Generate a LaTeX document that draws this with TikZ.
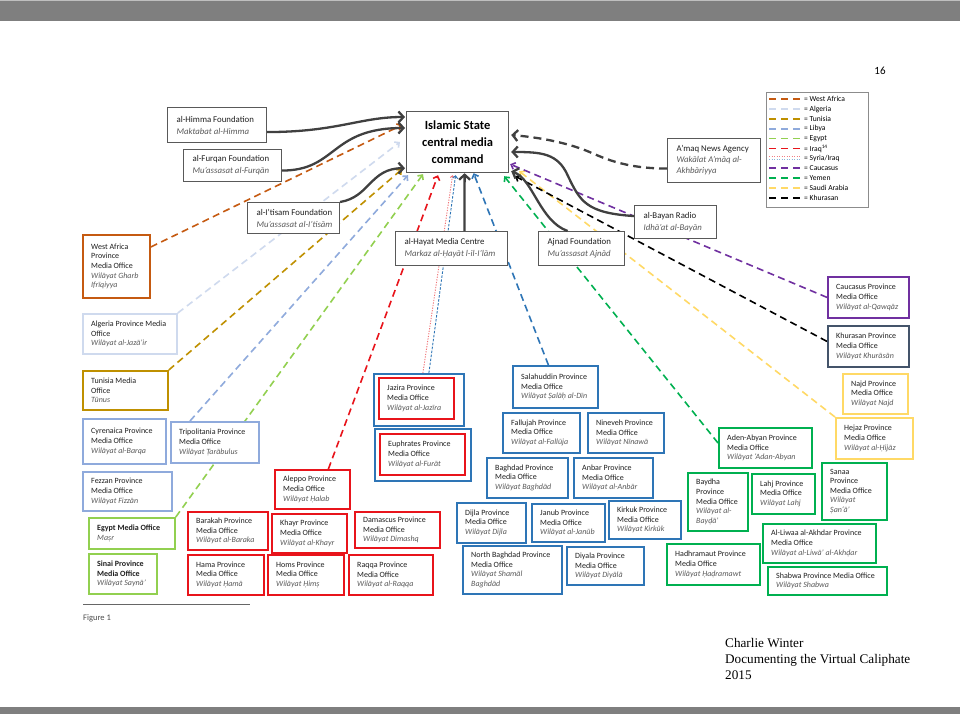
\documentclass[tikz,border=0pt]{standalone}
\usepackage{fontspec}
\setmainfont{Carlito}
\newfontfamily\timesf{Liberation Serif}
\usetikzlibrary{arrows.meta}
\pgfdeclarelayer{back}
\pgfdeclarelayer{lines}
\pgfsetlayers{back,lines,main}
\definecolor{waC}{HTML}{C55A11}
\definecolor{alC}{HTML}{CFDAEE}
\definecolor{tuC}{HTML}{BF9000}
\definecolor{liC}{HTML}{8FAADC}
\definecolor{egC}{HTML}{92D050}
\definecolor{syC}{HTML}{E8141B}
\definecolor{iqC}{HTML}{2E75B6}
\definecolor{caC}{HTML}{7030A0}
\definecolor{khC}{HTML}{44546A}
\definecolor{saC}{HTML}{FFD966}
\definecolor{yeC}{HTML}{00B050}
\definecolor{fdC}{HTML}{595959}
\definecolor{arC}{HTML}{404040}
\definecolor{itg}{HTML}{595959}
\definecolor{bandC}{HTML}{7F7F7F}
\newcommand\wil[1]{{\color{itg}\itshape #1}}
\newcommand\mkbox[8][]{%
  \node[pbox, draw=#3, minimum width=#6, minimum height=#7, #1] (#2) at (#4,#5) {};
  \node[ptxt, #1] (#2-t) at ([xshift=9pt]#2.west) {#8};}
\tikzset{
  pbox/.style={anchor=north west, fill=white, line width=1.8pt, inner sep=0pt},
  ptxt/.style={anchor=west, align=left, inner sep=0pt, text=black!88, font=\fontsize{8}{9.6}\selectfont},
  fnd/.style={line width=1.1pt, font=\fontsize{8.8}{12}\selectfont},
  darr/.style={line width=1.6pt, dash pattern=on 7pt off 4.5pt, -{Straight Barb[length=3.5pt,width=7pt]}},
  sarr/.style={arC, line width=2.3pt, -{Straight Barb[length=5pt,width=11pt]}},
  legt/.style={anchor=west, inner sep=0pt, font=\fontsize{7.6}{9}\selectfont}
}
\begin{document}
\begin{tikzpicture}[x=1pt,y=-1pt]
\useasboundingbox (0,0) rectangle (960,714);
\begin{pgfonlayer}{back}
\fill[white] (0,0) rectangle (960,714);
\fill[bandC] (0,0) rectangle (960,21);
\fill[black!25] (0,0) rectangle (960,1.5);
\fill[bandC] (0,707) rectangle (960,714);
\end{pgfonlayer}

% central
\node[draw=fdC, line width=1.2pt, fill=white, anchor=north west, minimum width=102, minimum height=61, inner sep=0pt, align=center, font=\bfseries\fontsize{12.5}{17}\selectfont] (cmd) at (406,111) {Islamic State\\central media\\command};

% foundations
\mkbox[fnd]{himma}{fdC}{167}{107}{99}{35}{al-Himma Foundation\\\wil{Maktabat al-Himma}}
\mkbox[fnd]{furqan}{fdC}{183}{149}{98}{32}{al-Furqan Foundation\\\wil{Mu’assasat al-Furqān}}
\mkbox[fnd]{itisam}{fdC}{247}{202}{92}{31}{al-I’tisam Foundation\\\wil{Mu’assasat al-I’tisām}}
\mkbox[fnd]{hayat}{fdC}{395}{231}{112}{34}{al-Hayat Media Centre\\\wil{Markaz al-Ḥayāt l-il-I’lām}}
\mkbox[fnd]{ajnad}{fdC}{538}{231}{86}{34}{Ajnad Foundation\\\wil{Mu’assasat Ajnād}}
\mkbox[fnd]{bayan}{fdC}{634}{205}{82}{33}{al-Bayan Radio\\\wil{Idhā’at al-Bayān}}
\mkbox[fnd,font=\fontsize{8.8}{11}\selectfont]{amaq}{fdC}{667}{138}{93}{44}{A’maq News Agency\\\wil{Wakālat A’māq al-}\\\wil{Akhbāriyya}}

% left column
\mkbox{wa}{waC}{82}{234}{67}{63}{West Africa\\Province\\Media Office\\\wil{Wilāyat Gharb}\\\wil{Ifrīqiyya}}
\mkbox{alg}{alC}{82}{313}{94}{40}{Algeria Province Media\\Office\\\wil{Wilāyat al-Jazā’ir}}
\mkbox{tun}{tuC}{82}{370}{85}{39}{Tunisia Media\\Office\\\wil{Tūnus}}
\mkbox{cyr}{liC}{82}{418}{83}{45}{Cyrenaica Province\\Media Office\\\wil{Wilāyat al-Barqa}}
\mkbox{trip}{liC}{170}{421}{88}{41}{Tripolitania Province\\Media Office\\\wil{Wilāyat Ṭarābulus}}
\mkbox{fez}{liC}{82}{471}{89}{39}{Fezzan Province\\Media Office\\\wil{Wilāyat Fizzān}}
\mkbox{egy}{egC}{88}{517}{86}{31}{\textbf{Egypt Media Office}\\\wil{Maṣr}}
\mkbox{sinai}{egC}{88}{553}{68}{40}{\textbf{Sinai Province}\\\textbf{Media Office}\\\wil{Wilāyat Saynā’}}

% Syria
\mkbox{bar}{syC}{187}{511}{80}{38}{Barakah Province\\Media Office\\\wil{Wilāyat al-Baraka}}
\mkbox{hama}{syC}{187}{554}{76}{40}{Hama Province\\Media Office\\\wil{Wilāyat Ḥamā}}
\mkbox{aleppo}{syC}{274}{469}{75}{39}{Aleppo Province\\Media Office\\\wil{Wilāyat Ḥalab}}
\mkbox{khayr}{syC}{271}{513}{75}{39}{Khayr Province\\Media Office\\\wil{Wilāyat al-Khayr}}
\mkbox{dam}{syC}{354}{511}{85}{36}{Damascus Province\\Media Office\\\wil{Wilāyat Dimashq}}
\mkbox{homs}{syC}{267}{554}{76}{40}{Homs Province\\Media Office\\\wil{Wilāyat Ḥimṣ}}
\mkbox{raqqa}{syC}{348}{554}{84}{40}{Raqqa Province\\Media Office\\\wil{Wilāyat al-Raqqa}}
\node[pbox, draw=iqC, minimum width=90, minimum height=52] (jazO) at (373,373) {};
\mkbox{jaz}{syC}{378}{377}{75}{41}{Jazira Province\\Media Office\\\wil{Wilāyat al-Jazīra}}
\node[pbox, draw=iqC, minimum width=96, minimum height=52] (eupO) at (374,428) {};
\mkbox{eup}{syC}{379}{433}{85}{41}{Euphrates Province\\Media Office\\\wil{Wilāyat al-Furāt}}

% Iraq
\mkbox{salah}{iqC}{512}{365}{85}{42}{Salahuddin Province\\Media Office\\\wil{Wilāyat Ṣalāḥ al-Dīn}}
\mkbox{fal}{iqC}{502}{412}{77}{40}{Fallujah Province\\Media Office\\\wil{Wilāyat al-Fallūja}}
\mkbox{nin}{iqC}{587}{412}{76}{40}{Nineveh Province\\Media Office\\\wil{Wilāyat Nīnawā}}
\mkbox{bag}{iqC}{486}{457}{81}{40}{Baghdad Province\\Media Office\\\wil{Wilāyat Baghdād}}
\mkbox{anb}{iqC}{573}{457}{79}{40}{Anbar Province\\Media Office\\\wil{Wilāyat al-Anbār}}
\mkbox{dij}{iqC}{456}{502}{69}{40}{Dijla Province\\Media Office\\\wil{Wilāyat Dijla}}
\mkbox{jan}{iqC}{531}{503}{73}{38}{Janub Province\\Media Office\\\wil{Wilāyat al-Janūb}}
\mkbox{kir}{iqC}{608}{500}{72}{38}{Kirkuk Province\\Media Office\\\wil{Wilāyat Kirkūk}}
\mkbox{nbag}{iqC}{462}{545}{99}{48}{North Baghdad Province\\Media Office\\\wil{Wilāyat Shamāl}\\\wil{Baghdād}}
\mkbox{diy}{iqC}{566}{546}{77}{38}{Diyala Province\\Media Office\\\wil{Wilāyat Diyālā}}

% right
\mkbox{cauc}{caC}{827}{276}{81}{41}{Caucasus Province\\Media Office\\\wil{Wilāyat al-Qawqāz}}
\mkbox{khur}{khC}{827}{325}{81}{41}{Khurasan Province\\Media Office\\\wil{Wilāyat Khurāsān}}
\mkbox{najd}{saC}{842}{373}{65}{40}{Najd Province\\Media Office\\\wil{Wilāyat Najd}}
\mkbox{hej}{saC}{835}{417}{77}{41}{Hejaz Province\\Media Office\\\wil{Wilāyat al-Ḥijāz}}
\mkbox{aden}{yeC}{718}{427}{93}{40}{Aden-Abyan Province\\Media Office\\\wil{Wilāyat ‘Adan-Abyan}}
\mkbox{bay}{yeC}{687}{472}{60}{58}{Baydha\\Province\\Media Office\\\wil{Wilāyat al-}\\\wil{Bayḍā’}}
\mkbox{lahj}{yeC}{751}{473}{63}{40}{Lahj Province\\Media Office\\\wil{Wilāyat Lahj}}
\mkbox{san}{yeC}{821}{462}{65}{57}{Sanaa\\Province\\Media Office\\\wil{Wilāyat}\\\wil{Ṣan‘ā’}}
\mkbox{liwa}{yeC}{762}{523}{113}{39}{Al-Liwaa al-Akhdar Province\\Media Office\\\wil{Wilāyat al-Liwā’ al-Akhḍar}}
\mkbox{hadh}{yeC}{666}{543}{93}{41}{Hadhramaut Province\\Media Office\\\wil{Wilāyat Ḥaḍramawt}}
\mkbox{shab}{yeC}{767}{566}{119}{28}{Shabwa Province Media Office\\\wil{Wilāyat Shabwa}}

% dashed regional connectors (behind boxes)
\begin{pgfonlayer}{lines}
\draw[darr, waC] ([yshift=-13pt]wa.north east) -- ([xshift=-4pt,yshift=-14pt]cmd.north west);
\draw[darr, alC] (alg.north east) -- ([xshift=-6pt,yshift=-31pt]cmd.north west);
\draw[darr, tuC] (tun.north east) -- ([xshift=-4pt,yshift=4pt]cmd.south west);
\draw[darr, liC] ([xshift=20pt]trip.north west) -- ([xshift=2pt,yshift=-2pt]cmd.south west);
\draw[darr, egC] (egy.north east) -- ([xshift=17pt,yshift=-1pt]cmd.south west);
\draw[darr, syC] ([xshift=16pt]aleppo.north) -- ([xshift=32pt,yshift=-2pt]cmd.south west);
\draw[syC!60, line width=0.9pt, dash pattern=on 1.2pt off 1.4pt, -{Straight Barb[length=2pt,width=4pt]}] ([xshift=4pt]jazO.north) -- ([xshift=-5pt,yshift=-2pt]cmd.south);
\draw[iqC, line width=0.9pt, dash pattern=on 2.5pt off 1.5pt, -{Straight Barb[length=2.5pt,width=5pt]}] ([xshift=10pt]jazO.north) -- ([xshift=-2pt,yshift=-2pt]cmd.south);
\draw[darr, iqC] ([xshift=-7pt]salah.north) -- ([xshift=16pt]cmd.south);
\draw[darr, yeC] ([yshift=-16pt]aden.north west) -- ([xshift=-5pt,yshift=-3pt]cmd.south east);
\draw[darr, saC] (hej.north west) -- ([xshift=10pt,yshift=2pt]cmd.south east);
\draw[darr, black] ([yshift=5pt]khur.west) -- ([xshift=6pt,yshift=-3pt]cmd.south east);
\draw[darr, caC] (cauc.west) -- ([xshift=1pt,yshift=9pt]cmd.south east);
\end{pgfonlayer}

% solid feeds to central command
\draw[sarr] ([yshift=-7pt]himma.east) .. controls +(70,0) and +(-45,0) .. ([xshift=-1pt,yshift=-6pt]cmd.north west);
\draw[sarr] ([yshift=-5pt]furqan.east) .. controls +(55,0) and +(-75,0) .. ([xshift=-1pt,yshift=-17pt]cmd.north west);
\draw[sarr] (itisam.north east) .. controls +(30,-5) and +(-35,0) .. ([xshift=-1pt,yshift=5pt]cmd.south west);
\draw[sarr] ([xshift=13pt]hayat.north) -- ([xshift=7pt]cmd.south);
\draw[sarr] ([xshift=-14pt]ajnad.north) .. controls +(-28,-10) and +(22,8) .. ([xshift=2pt,yshift=2pt]cmd.south east);
\draw[sarr] ([yshift=6pt]bayan.west) .. controls +(-48,-3) and +(12,25) .. ++(-66,-40) .. controls +(-10,-23) and +(30,0) .. ([xshift=2pt,yshift=-41pt]cmd.north east);
\draw[sarr, dash pattern=on 8pt off 5pt] ([yshift=-8pt]amaq.west) .. controls +(-45,0) and +(15,6) .. ++(-81,-18) .. controls +(-15,-6) and +(35,3) .. ([xshift=2pt,yshift=-24pt]cmd.north east);

% legend
\node[draw=black!45, line width=0.5pt, anchor=north west, minimum width=102, minimum height=115, inner sep=0pt] (leg) at (766,92) {};
\foreach \i/\c/\t in {0/waC/West Africa,1/alC/Algeria,2/tuC/Tunisia,3/liC/Libya,4/egC/Egypt,5/syC/Iraq\textsuperscript{14},7/caC/Caucasus,8/yeC/Yemen,9/saC/Saudi Arabia,10/black/Khurasan}{
  \pgfmathsetmacro\yy{99.3+9.84*\i}
  \draw[\c, line width=1.6pt, dash pattern=on 7pt off 5pt] (769,\yy) -- (800,\yy);
  \node[legt] (legt\i) at (804,\yy) {= \t};
}
\draw[syC!55, line width=1pt, dash pattern=on 1.2pt off 1.3pt] (769,157) -- (800,157);
\draw[iqC!55, line width=1pt, dash pattern=on 1.2pt off 1.3pt] (769,159.8) -- (800,159.8);
\node[legt] (legt6) at (804,158.3) {= Syria/Iraq};

% page furniture
\node[inner sep=0pt, font=\fontsize{11}{13}\selectfont] (pg) at (880,71) {16};
\draw[black!60, line width=0.8pt] (83,604) -- (250,604);
\node[anchor=west, inner sep=0pt, font=\fontsize{8.5}{10}\selectfont, text=black!70] (fig) at (83,618) {Figure 1};
\node[anchor=west, inner sep=0pt, align=left, font=\timesf\fontsize{13.2}{16}\selectfont] (cw) at (725,659) {Charlie Winter\\Documenting the Virtual Caliphate\\2015};
\end{tikzpicture}
\end{document}
